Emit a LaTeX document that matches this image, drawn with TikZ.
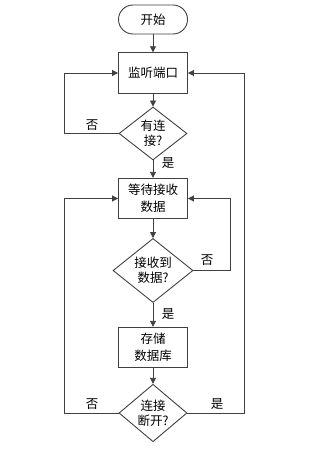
\documentclass[tikz,border=0pt]{standalone}
\usepackage{fontspec}
\setmainfont{Noto Sans CJK SC}
\usetikzlibrary{shapes.geometric,arrows.meta}
\begin{document}
\begin{tikzpicture}[x=1pt,y=-1pt,
  line width=0.9pt,
  every node/.style={text=black},
  lc/.style={draw=black!75},
  term/.style={lc, rectangle, rounded corners=14.5pt, minimum width=69pt, minimum height=29pt, inner sep=0pt, font=\fontsize{12.5}{17}\selectfont},
  proc/.style={lc, rectangle, minimum width=69pt, minimum height=40.5pt, inner sep=0pt, align=center, font=\fontsize{12.5}{17}\selectfont},
  dec/.style={lc, diamond, inner sep=0pt, align=center, font=\fontsize{12.5}{15}\selectfont},
  lbl/.style={font=\fontsize{12.5}{15}\selectfont, inner sep=0pt},
  arr/.style={draw=black!75, -{Triangle[length=6pt,width=6pt]}},
  ln/.style={draw=black!75}
]
\useasboundingbox (0,0) rectangle (329,452);
\node[term] (start) at (153,19.5) {开始};
\node[proc] (listen) at (153,73) {监听端口};
\node[dec, minimum width=68pt, minimum height=53pt] (conn) at (153,133.5) {有连\\接?};
\node[proc] (wait) at (153,198.5) {等待接收\\数据};
\node[dec, minimum width=80pt, minimum height=59pt] (recv) at (153,270.5) {接收到\\数据?};
\node[proc] (store) at (153,347.5) {存储\\数据库};
\node[dec, minimum width=68pt, minimum height=54pt] (disc) at (153,413) {连接\\断开?};

\coordinate (L) at (64,0);
\coordinate (R) at (244,0);
\coordinate (R2) at (230,0);

\draw[arr] (start) -- (listen);
\draw[arr] (listen) -- (conn);
\draw[arr] (conn) -- (wait);
\draw[arr] (wait) -- (recv);
\draw[arr] (recv) -- (store);
\draw[arr] (store) -- (disc);

\draw[arr] (conn.west) -- (conn.west -| L) |- (listen.west);
\draw[arr] (disc.east) -- (disc.east -| R) |- (listen.east);
\draw[arr] (disc.west) -- (disc.west -| L) |- (wait.west);
\draw[arr] (recv.east) -- (recv.east -| R2) |- (wait.east);

\node[lbl] (n1) at (92,125) {否};
\node[lbl] (y1) at (168,163) {是};
\node[lbl] (n2) at (207,260) {否};
\node[lbl] (y2) at (168,314) {是};
\node[lbl] (n3) at (92,404) {否};
\node[lbl] (y3) at (217,404) {是};
\end{tikzpicture}
\end{document}
